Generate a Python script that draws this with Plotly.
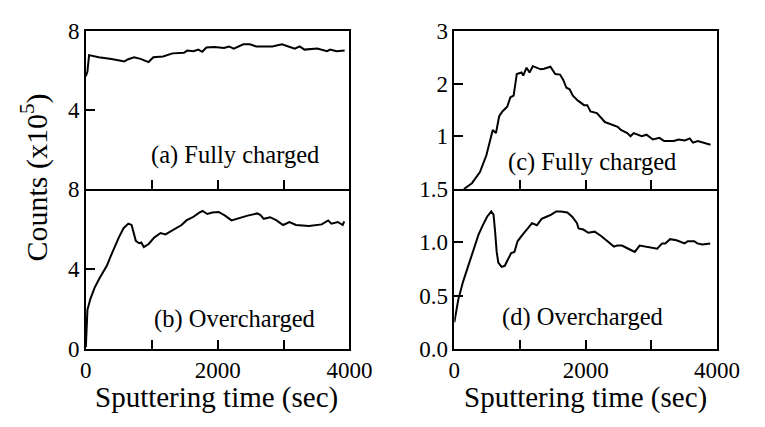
import plotly.graph_objects as go

# ---------------- data ----------------
t_a = [0, 24, 49, 195, 390, 537, 585, 634, 732, 830, 951, 1024, 1171, 1317, 1488, 1537,
       1634, 1707, 1766, 1829, 1951, 2098, 2171, 2244, 2390, 2488, 2585, 2829, 2976, 3073,
       3171, 3244, 3317, 3512, 3659, 3707, 3805, 3927]
v_a = [5.7, 5.94, 6.77, 6.66, 6.58, 6.5, 6.45, 6.55, 6.66, 6.58, 6.42, 6.66, 6.70, 6.86, 6.89, 7.0,
       6.97, 7.05, 6.94, 7.16, 7.18, 7.13, 7.21, 7.10, 7.32, 7.32, 7.21, 7.21, 7.32, 7.21,
       7.10, 7.21, 7.05, 7.10, 6.97, 7.05, 6.97, 7.0]

t_b = [0, 24, 68, 132, 205, 279, 318, 376, 425, 499, 572, 645, 694, 724, 758, 807, 841, 880,
       953, 1037, 1134, 1208, 1281, 1369, 1452, 1526, 1623, 1721, 1770, 1843, 1917, 2015, 2112,
       2210, 2308, 2455, 2601, 2650, 2699, 2797, 2894, 2992, 3090, 3188, 3384, 3481, 3579, 3677,
       3726, 3824, 3897, 3921]
v_b = [0.1, 1.96, 2.5, 3.06, 3.53, 3.92, 4.16, 4.63, 5.02, 5.57, 6.04, 6.27, 6.2, 5.88, 5.41,
       5.29, 5.33, 5.1, 5.25, 5.57, 5.8, 5.73, 5.88, 6.04, 6.2, 6.43, 6.59, 6.82, 6.9, 6.75, 6.82,
       6.85, 6.67, 6.43, 6.54, 6.67, 6.78, 6.7, 6.51, 6.59, 6.43, 6.2, 6.35, 6.2, 6.15, 6.2, 6.23,
       6.43, 6.27, 6.35, 6.2, 6.38]

t_c = [146, 268, 390, 488, 537, 585, 634, 683, 732, 805, 854, 903, 951, 1024, 1049, 1100,
       1146, 1195, 1317, 1366, 1463, 1537, 1610, 1659, 1707, 1756, 1805, 1878, 1976, 2024, 2073,
       2171, 2293, 2415, 2488, 2537, 2634, 2683, 2732, 2854, 2927, 3024, 3122, 3195, 3341, 3415,
       3512, 3585, 3634, 3707, 3805, 3902]
v_c = [0.0, 0.11, 0.32, 0.64, 0.88, 1.12, 1.06, 1.38, 1.47, 1.56, 1.74, 1.77, 2.18, 2.21, 2.15,
       2.30, 2.21, 2.33, 2.27, 2.28, 2.32, 2.18, 2.17, 2.07, 1.92, 1.89, 1.77, 1.68, 1.59, 1.59,
       1.47, 1.44, 1.27, 1.21, 1.18, 1.12, 1.06, 1.0, 1.06, 1.0, 1.03, 0.94, 0.97, 0.91, 0.91,
       0.94, 0.92, 0.96, 0.88, 0.91, 0.88, 0.84]

t_d = [0, 59, 132, 230, 303, 367, 425, 499, 562, 597, 621, 645, 670, 719, 768, 817, 866, 915,
       963, 1037, 1110, 1183, 1257, 1330, 1403, 1477, 1550, 1623, 1721, 1795, 1868, 1892, 1966,
       2039, 2137, 2235, 2333, 2430, 2479, 2553, 2650, 2748, 2822, 2919, 3017, 3090, 3164, 3213,
       3286, 3384, 3506, 3555, 3653, 3701, 3775, 3848, 3897]
v_d = [0.25, 0.46, 0.63, 0.81, 0.96, 1.07, 1.15, 1.24, 1.29, 1.26, 1.10, 0.91, 0.81, 0.77, 0.78,
       0.84, 0.90, 0.91, 1.01, 1.07, 1.13, 1.18, 1.16, 1.22, 1.24, 1.26, 1.29, 1.29, 1.28, 1.24,
       1.18, 1.13, 1.12, 1.09, 1.10, 1.06, 1.01, 0.96, 0.97, 0.97, 0.94, 0.91, 0.97, 0.96, 0.95,
       0.94, 0.99, 0.99, 1.03, 1.02, 0.99, 1.01, 1.01, 0.99, 0.98, 0.99, 0.99]

x_ticks = [0, 1000, 2000, 3000, 4000]
x_ticktext = ["0", "", "2000", "", "4000"]
panel_labels = ["(a) Fully charged", "(b) Overcharged", "(c) Fully charged", "(d) Overcharged"]

FONT = "Liberation Serif"
W, H = 765, 427

def px_x(p):
    return p / W

def px_y(p):
    return 1 - p / H

left_dom = [px_x(83), px_x(357)]
right_dom = [px_x(466), px_x(739)]
top_dom = [px_y(188), px_y(20)]
bot_dom = [px_y(358), px_y(188)]

fig = go.Figure()
line = dict(color="black", width=2)
fig.add_trace(go.Scatter(x=t_a, y=v_a, mode="lines", line=line, xaxis="x", yaxis="y"))
fig.add_trace(go.Scatter(x=t_b, y=v_b, mode="lines", line=line, xaxis="x2", yaxis="y2"))
fig.add_trace(go.Scatter(x=t_c, y=v_c, mode="lines", line=line, xaxis="x3", yaxis="y3"))
fig.add_trace(go.Scatter(x=t_d, y=v_d, mode="lines", line=line, xaxis="x4", yaxis="y4"))

axcommon = dict(showline=True, mirror=True, linecolor="black", linewidth=1.6,
                showgrid=False, zeroline=False, ticks="inside", ticklen=9, tickwidth=2,
                tickcolor="black", tickfont=dict(family=FONT, size=23, color="black"))

def xax(dom, anchor, labels, mirror):
    return dict(axcommon, domain=dom, anchor=anchor, range=[0, 4000], tickmode="array",
                tickvals=x_ticks, ticktext=x_ticktext, showticklabels=labels, mirror=mirror)

def yax(dom, anchor, rng, vals, texts):
    return dict(axcommon, domain=dom, anchor=anchor, range=rng, tickmode="array",
                tickvals=vals, ticktext=texts)

fig.update_layout(
    width=W, height=H, margin=dict(l=0, r=0, t=0, b=0),
    paper_bgcolor="white", plot_bgcolor="white", showlegend=False,
    font=dict(family=FONT, color="black"),
    xaxis=xax(left_dom, "y", False, True),
    yaxis=yax(top_dom, "x", [0, 8], [4, 8], ["4", "8"]),
    xaxis2=xax(left_dom, "y2", True, False),
    yaxis2=yax(bot_dom, "x2", [0, 8], [0, 4, 8], ["0", "4", "8"]),
    xaxis3=xax(right_dom, "y3", False, True),
    yaxis3=yax(top_dom, "x3", [0, 3], [1, 2, 3], ["1", "2", "3"]),
    xaxis4=xax(right_dom, "y4", True, False),
    yaxis4=yax(bot_dom, "x4", [0, 1.5], [0, 0.5, 1.0, 1.5], ["0.0", "0.5", "1.0", "1.5"]),
)

annots = []
label_pos = [(238, 152), (237, 326), (609, 159), (599, 324)]
for txt, (x, y) in zip(panel_labels, label_pos):
    annots.append(dict(text=txt, x=px_x(x), y=px_y(y), xref="paper", yref="paper",
                       showarrow=False, xanchor="center", yanchor="middle",
                       font=dict(family=FONT, size=24.5, color="black")))
for cx in [219, 602]:
    annots.append(dict(text="Sputtering time (sec)", x=px_x(cx), y=px_y(409), xref="paper",
                       yref="paper", showarrow=False, xanchor="center", yanchor="middle",
                       font=dict(family=FONT, size=29, color="black")))
annots.append(dict(text="Counts (x10<sup>5</sup>)", x=px_x(30), y=px_y(176), xref="paper",
                   yref="paper", showarrow=False, textangle=-90, xanchor="center",
                   yanchor="middle", font=dict(family=FONT, size=30, color="black")))
fig.update_layout(annotations=annots)

fig.write_html("out.html")
